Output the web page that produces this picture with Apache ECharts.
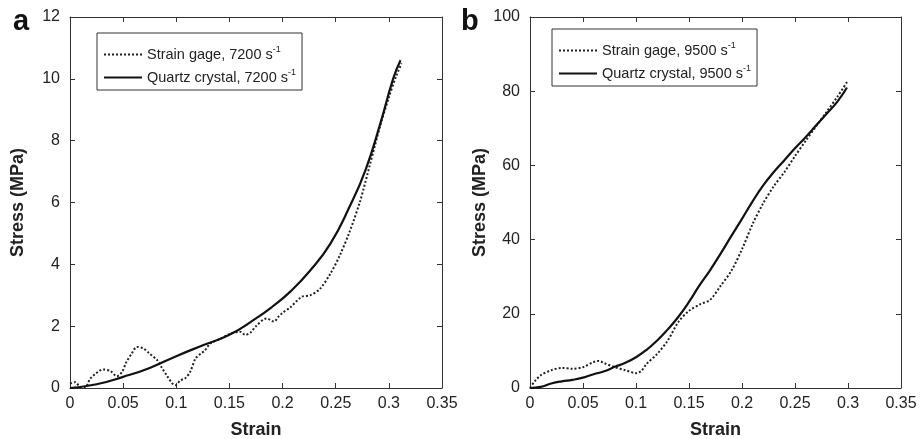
<!DOCTYPE html>
<html>
<head>
<meta charset="utf-8">
<script src="https://cdn.jsdelivr.net/npm/echarts@6/dist/echarts.min.js"></script>
<style>
  html, body { margin: 0; padding: 0; background: #fff; }
  #main { width: 920px; height: 439px; }
</style>
</head>
<body>
<div id="main"></div>
<script>
// panel a, 7200 s-1
const gageStrainA = [0, 0.005, 0.009, 0.014, 0.019, 0.024, 0.031, 0.038, 0.044, 0.049, 0.053, 0.058, 0.063, 0.069, 0.075, 0.082, 0.086, 0.091, 0.096, 0.099, 0.104, 0.108, 0.113, 0.118, 0.123, 0.127, 0.132, 0.142, 0.151, 0.16, 0.165, 0.17, 0.175, 0.185, 0.192, 0.196, 0.2, 0.207, 0.218, 0.226, 0.235, 0.245, 0.254, 0.263, 0.273, 0.282, 0.292, 0.3, 0.307, 0.312]
const gageStressA = [0.14, 0.19, 0.05, 0.01, 0.3, 0.46, 0.6, 0.55, 0.38, 0.52, 0.84, 1.11, 1.33, 1.28, 1.11, 0.9, 0.68, 0.41, 0.16, 0.09, 0.25, 0.3, 0.52, 0.95, 1.11, 1.22, 1.44, 1.6, 1.76, 1.82, 1.72, 1.8, 2.0, 2.25, 2.15, 2.3, 2.43, 2.6, 2.95, 3.0, 3.2, 3.7, 4.3, 5.05, 6.05, 7.2, 8.5, 9.4, 10.1, 10.5]
const quartzStrainA = [0, 0.025, 0.05, 0.075, 0.1, 0.125, 0.15, 0.175, 0.19, 0.207, 0.226, 0.245, 0.263, 0.278, 0.292, 0.304, 0.311]
const quartzStressA = [0, 0.12, 0.36, 0.65, 1.03, 1.38, 1.72, 2.25, 2.62, 3.11, 3.8, 4.67, 5.86, 7.05, 8.56, 10.0, 10.6]

// panel b, 9500 s-1
const gageStrainB = [0, 0.005, 0.01, 0.02, 0.03, 0.04, 0.05, 0.06, 0.065, 0.07, 0.08, 0.09, 0.1, 0.105, 0.11, 0.12, 0.13, 0.14, 0.15, 0.16, 0.17, 0.18, 0.19, 0.2, 0.21, 0.22, 0.23, 0.24, 0.25, 0.26, 0.27, 0.28, 0.29, 0.3]
const gageStressB = [0, 2, 3.4, 4.8, 5.4, 5.2, 5.6, 7, 7.3, 6.7, 5.6, 4.8, 4.0, 4.6, 6.5, 9.2, 12.8, 17.8, 20.8, 22.5, 23.8, 27.6, 31.6, 37.4, 44.2, 49.8, 54.4, 58.2, 62.5, 66.6, 70.6, 74.5, 78.5, 82.9]
const quartzStrainB = [0, 0.01, 0.02, 0.03, 0.04, 0.05, 0.06, 0.07, 0.08, 0.09, 0.1, 0.11, 0.12, 0.13, 0.14, 0.15, 0.16, 0.17, 0.18, 0.19, 0.2, 0.21, 0.22, 0.23, 0.24, 0.25, 0.26, 0.27, 0.28, 0.29, 0.299]
const quartzStressB = [0, 0.3, 1.2, 1.8, 2.2, 2.8, 3.7, 4.5, 5.7, 6.8, 8.3, 10.3, 12.8, 15.8, 19.2, 23.2, 27.7, 31.8, 36.3, 41, 45.6, 50.3, 54.6, 58.2, 61.4, 64.6, 67.6, 70.8, 74, 77.2, 81]

const namesA = ['Strain gage, 7200 s-1', 'Quartz crystal, 7200 s-1']
const namesB = ['Strain gage, 9500 s-1', 'Quartz crystal, 9500 s-1']

const font = 'Liberation Sans, Arial, sans-serif'
const ink = '#222'

function zip (xs, ys) {
  return xs.map((x, i) => [x, ys[i]])
}

function xAxes (gridIndex) {
  let base = {
    gridIndex: gridIndex,
    type: 'value',
    min: 0,
    max: 0.35,
    interval: 0.05,
    splitLine: { show: false },
    axisLine: { onZero: false, lineStyle: { color: '#333', width: 1 } },
    axisTick: { inside: true, length: 5, lineStyle: { color: '#333' } }
  }
  return [
    Object.assign({}, base, {
      position: 'bottom',
      name: 'Strain',
      nameLocation: 'middle',
      nameGap: 33,
      nameTextStyle: { fontFamily: font, fontWeight: 'bold', fontSize: 18, color: ink },
      axisLabel: { fontFamily: font, fontSize: 16, color: ink, margin: 8, formatter: v => String(+v.toFixed(2)) }
    }),
    Object.assign({}, base, { position: 'top', axisLabel: { show: false } })
  ]
}

function yAxes (gridIndex, max, interval) {
  let base = {
    gridIndex: gridIndex,
    type: 'value',
    min: 0,
    max: max,
    interval: interval,
    splitLine: { show: false },
    axisLine: { show: true, onZero: false, lineStyle: { color: '#333', width: 1 } },
    axisTick: { show: true, inside: true, length: 5, lineStyle: { color: '#333' } }
  }
  return [
    Object.assign({}, base, {
      position: 'left',
      name: 'Stress (MPa)',
      nameLocation: 'middle',
      nameGap: gridIndex === 0 ? 43 : 41,
      nameTextStyle: { fontFamily: font, fontWeight: 'bold', fontSize: 18, color: ink },
      axisLabel: { fontFamily: font, fontSize: 16, color: ink, margin: 10 }
    }),
    Object.assign({}, base, { position: 'right', axisLabel: { show: false } })
  ]
}

function legendFor (names, left, top) {
  return {
    data: names,
    orient: 'vertical',
    left: left,
    top: top,
    padding: [12, 6, 5, 6],
    itemGap: 6,
    itemWidth: 38,
    itemHeight: 14,
    borderColor: '#333',
    borderWidth: 1,
    itemStyle: { opacity: 0 },
    formatter: name => '{t|' + name.replace(' s-1', ' s') + '}{sup|-1}',
    textStyle: {
      fontFamily: font,
      fontSize: 14.5,
      color: ink,
      rich: {
        t: { fontFamily: font, fontSize: 14.5, color: ink },
        sup: { fontFamily: font, fontSize: 9, color: ink, padding: [0, 0, 10, 0] }
      }
    }
  }
}

function seriesFor (names, axisOffset, gage, quartz) {
  return [
    {
      name: names[0],
      type: 'line',
      xAxisIndex: axisOffset,
      yAxisIndex: axisOffset,
      showSymbol: false,
      symbol: 'none',
      smooth: 0.3,
      data: gage,
      lineStyle: { color: '#222', width: 2, type: [2, 2] },
      itemStyle: { color: '#222' }
    },
    {
      name: names[1],
      type: 'line',
      xAxisIndex: axisOffset,
      yAxisIndex: axisOffset,
      showSymbol: false,
      symbol: 'none',
      smooth: 0.5,
      data: quartz,
      lineStyle: { color: '#111', width: 2.2 },
      itemStyle: { color: '#111' }
    }
  ]
}

let chartDom = document.getElementById('main')
let myChart = echarts.init(chartDom)

let option = {
  backgroundColor: '#fff',
  animation: false,
  title: [
    { text: 'a', left: 8, top: 2, textStyle: { fontFamily: font, fontWeight: 'bold', fontSize: 29, color: '#111' } },
    { text: 'b', left: 456, top: 2, textStyle: { fontFamily: font, fontWeight: 'bold', fontSize: 29, color: '#111' } }
  ],
  grid: [
    { left: 70, top: 17, width: 372, height: 371, outerBoundsMode: 'none' },
    { left: 530, top: 17, width: 371, height: 371, outerBoundsMode: 'none' }
  ],
  xAxis: [].concat(xAxes(0), xAxes(1)),
  yAxis: [].concat(yAxes(0, 12, 2), yAxes(1, 100, 20)),
  legend: [legendFor(namesA, 97, 33), legendFor(namesB, 552, 29)],
  series: [].concat(
    seriesFor(namesA, 0, zip(gageStrainA, gageStressA), zip(quartzStrainA, quartzStressA)),
    seriesFor(namesB, 2, zip(gageStrainB, gageStressB), zip(quartzStrainB, quartzStressB))
  )
}

myChart.setOption(option)
window.addEventListener('resize', () => myChart.resize())
</script>
</body>
</html>
